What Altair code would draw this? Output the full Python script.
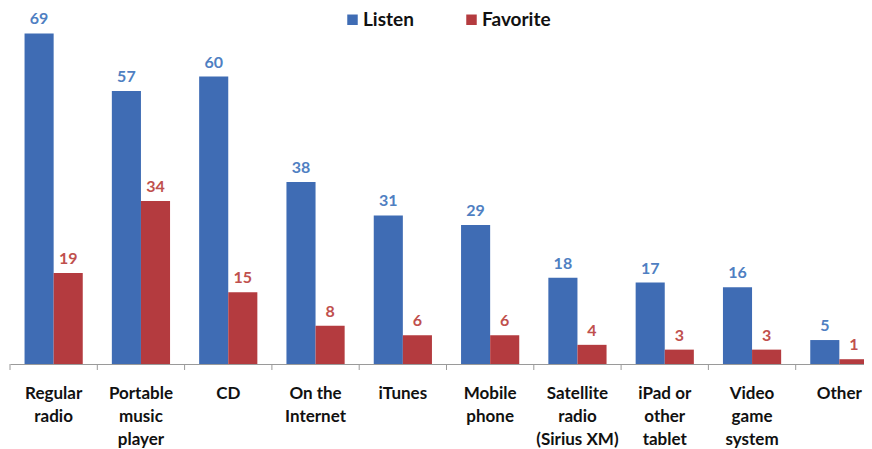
import altair as alt
import pandas as pd

categories = ["Regular\nradio", "Portable\nmusic\nplayer", "CD", "On the\nInternet", "iTunes",
              "Mobile\nphone", "Satellite\nradio\n(Sirius XM)", "iPad or\nother\ntablet",
              "Video\ngame\nsystem", "Other"]
listen = [69, 57, 60, 38, 31, 29, 18, 17, 16, 5]
favorite = [19, 34, 15, 8, 6, 6, 4, 3, 3, 1]
series = ["Listen", "Favorite"]
bar_colors = ["#3F6CB4", "#B43B3F"]
text_colors = ["#4F7FC2", "#C0504D"]

rows = []
for c, l, f in zip(categories, listen, favorite):
    rows.append({"category": c, "series": "Listen", "value": l})
    rows.append({"category": c, "series": "Favorite", "value": f})
df = pd.DataFrame(rows)
cat_df = pd.DataFrame({"category": categories})

FONT = "Lato"

x_scale = alt.Scale(paddingInner=0, paddingOuter=0)
x_enc = alt.X("category:N", sort=categories, scale=x_scale,
              axis=alt.Axis(title=None, labelAngle=0, ticks=False, domainColor="#9a9a9a",
                            domainWidth=1, labelFont=FONT, labelFontSize=17,
                            labelFontWeight="bold", labelColor="#111111", labelPadding=21,
                            labelBaseline="top", labelLineHeight=23,
                            labelExpr="split(datum.value, '\\n')"))
xoff = alt.XOffset("series:N", sort=series, scale=alt.Scale(paddingInner=0, paddingOuter=0.5))
y_enc = alt.Y("value:Q", scale=alt.Scale(domain=[0, 72]), axis=None)

base = alt.Chart(df)

bars = base.mark_bar().encode(
    x=x_enc, xOffset=xoff, y=y_enc,
    color=alt.Color("series:N", sort=series,
                    scale=alt.Scale(domain=series, range=bar_colors),
                    legend=alt.Legend(title=None, orient="none", direction="horizontal",
                                      legendX=333, legendY=-9, symbolType="square",
                                      symbolSize=110, symbolStrokeWidth=0, labelFont=FONT,
                                      labelFontSize=19, labelFontWeight="bold",
                                      labelColor="#111111", columnPadding=48, labelOffset=1))
)

labels = base.mark_text(dy=-6, baseline="bottom", font=FONT, fontSize=16, fontWeight="bold").encode(
    x=alt.X("category:N", sort=categories), xOffset=xoff, y=y_enc,
    text="value:Q",
    color=alt.Color("series:N", scale=alt.Scale(domain=series, range=text_colors), legend=None)
)

ticks = alt.Chart(cat_df).mark_rule(color="#9a9a9a").encode(
    x=alt.X("category:N", sort=categories, bandPosition=0),
    y=alt.value(345), y2=alt.value(351)
)

chart = alt.layer(bars, labels, ticks).resolve_scale(color="independent").properties(
    width=873, height=345,
    autosize=alt.AutoSizeParams(type="none"),
    padding={"left": 2, "top": 11, "right": -19, "bottom": 84},
).configure_view(stroke=None)

chart.save("out.html", embed_options={"renderer": "svg", "actions": False})
